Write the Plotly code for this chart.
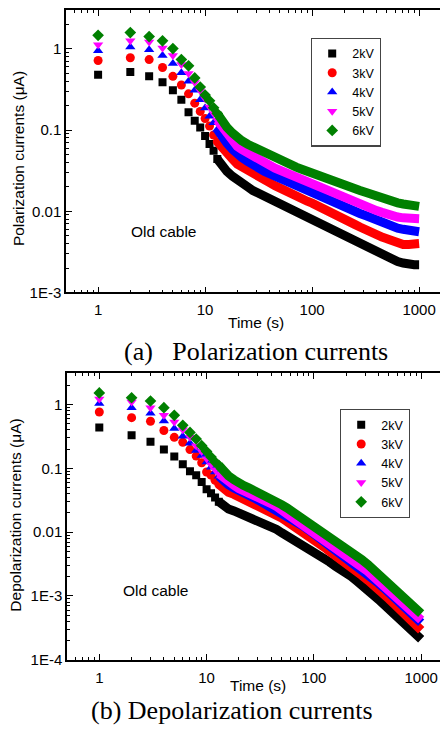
import plotly.graph_objects as go

# Time axis (s) shared by all series
time_s = [1, 2, 3, 4, 5, 6, 7, 8, 9, 10, 11, 12,
          13, 14, 15, 16, 18, 20, 22, 25, 28, 32,
          36, 40, 45, 50, 56, 63, 71, 80, 90, 100,
          112, 125, 140, 160, 180, 200, 225, 250, 280, 320,
          360, 400, 450, 500, 560, 630, 710, 800, 900, 1000]

labels = ["2kV", "3kV", "4kV", "5kV", "6kV"]

# Polarization currents (uA)
pol_2kv = [0.48, 0.52, 0.46, 0.39, 0.31, 0.236, 0.166, 0.13, 0.108, 0.0845, 0.0676, 0.0556,
           0.044, 0.038, 0.034, 0.031, 0.027, 0.024, 0.022, 0.020, 0.018, 0.0165,
           0.015, 0.014, 0.013, 0.012, 0.0113, 0.0105, 0.0097, 0.0091, 0.0086, 0.0081,
           0.0075, 0.0070, 0.0065, 0.0060, 0.0055, 0.0051, 0.0047, 0.0043, 0.0040, 0.0037,
           0.0034, 0.0031, 0.0029, 0.0027, 0.0025, 0.0024, 0.0023, 0.0022, 0.0022, 0.0022]
pol_3kv = [0.72, 0.78, 0.74, 0.59, 0.46, 0.36, 0.28, 0.215, 0.17, 0.139, 0.112, 0.087,
           0.072, 0.063, 0.056, 0.051, 0.044, 0.038, 0.035, 0.032, 0.029, 0.026,
           0.024, 0.0225, 0.0207, 0.0192, 0.0178, 0.0165, 0.0152, 0.0142, 0.0133, 0.0126,
           0.0118, 0.0110, 0.0102, 0.0094, 0.0087, 0.0081, 0.0075, 0.0069, 0.0064, 0.0058,
           0.0054, 0.0051, 0.0048, 0.0046, 0.0043, 0.0041, 0.0039, 0.0039, 0.0039, 0.0040]
pol_4kv = [0.95, 1.06, 0.98, 0.83, 0.66, 0.51, 0.40, 0.31, 0.236, 0.187, 0.148, 0.123,
           0.102, 0.087, 0.077, 0.069, 0.058, 0.050, 0.046, 0.041, 0.037, 0.034,
           0.031, 0.029, 0.027, 0.025, 0.0235, 0.022, 0.0205, 0.019, 0.018, 0.017,
           0.016, 0.015, 0.014, 0.013, 0.0122, 0.0114, 0.0106, 0.0100, 0.0094, 0.0088,
           0.0082, 0.0077, 0.0072, 0.0068, 0.0065, 0.0062, 0.0060, 0.0058, 0.0057, 0.0056]
pol_5kv = [1.13, 1.26, 1.22, 1.03, 0.83, 0.645, 0.50, 0.386, 0.306, 0.243, 0.192, 0.16,
           0.132, 0.115, 0.100, 0.089, 0.074, 0.063, 0.058, 0.052, 0.047, 0.043,
           0.040, 0.037, 0.034, 0.032, 0.030, 0.028, 0.026, 0.0245, 0.023, 0.0215,
           0.0202, 0.019, 0.0178, 0.0165, 0.0155, 0.0146, 0.0137, 0.0130, 0.0122, 0.0115,
           0.0108, 0.0102, 0.0097, 0.0092, 0.0088, 0.0085, 0.0083, 0.0082, 0.0081, 0.0081]
pol_6kv = [1.47, 1.59, 1.42, 1.26, 1.01, 0.74, 0.62, 0.44, 0.34, 0.27, 0.23, 0.188,
           0.16, 0.136, 0.12, 0.108, 0.092, 0.080, 0.074, 0.067, 0.062, 0.057,
           0.053, 0.050, 0.046, 0.043, 0.040, 0.037, 0.035, 0.033, 0.031, 0.0298,
           0.028, 0.0265, 0.025, 0.0235, 0.022, 0.021, 0.020, 0.019, 0.018, 0.0170,
           0.0160, 0.0152, 0.0145, 0.0138, 0.0132, 0.0127, 0.0123, 0.0120, 0.0117, 0.0115]

# Depolarization currents (uA)
dep_2kv = [0.435, 0.33, 0.26, 0.196, 0.153, 0.116, 0.0895, 0.078, 0.061, 0.047, 0.0405, 0.0347,
           0.030, 0.027, 0.024, 0.023, 0.0215, 0.020, 0.0188, 0.0172, 0.0158, 0.0143,
           0.0131, 0.0121, 0.0110, 0.0098, 0.0088, 0.0079, 0.0070, 0.0062, 0.0056, 0.0050,
           0.0044, 0.0039, 0.0034, 0.0029, 0.0026, 0.0023, 0.0020, 0.00172, 0.0015, 0.0012,
           0.00102, 0.00088, 0.00073, 0.00060, 0.00050, 0.00042, 0.00035, 0.00029, 0.00025, 0.00021]
dep_3kv = [0.76, 0.62, 0.545, 0.39, 0.305, 0.255, 0.196, 0.155, 0.122, 0.0875, 0.078, 0.065,
           0.056, 0.049, 0.045, 0.042, 0.039, 0.036, 0.033, 0.030, 0.027, 0.024,
           0.022, 0.020, 0.018, 0.0166, 0.0147, 0.0130, 0.0115, 0.0101, 0.0088, 0.0076,
           0.0066, 0.0058, 0.0050, 0.0043, 0.0037, 0.0033, 0.0028, 0.0024, 0.0021, 0.00175,
           0.00150, 0.00128, 0.00108, 0.00090, 0.00075, 0.00062, 0.00051, 0.00042, 0.00035, 0.00029]
dep_4kv = [1.03, 0.89, 0.73, 0.55, 0.42, 0.316, 0.246, 0.19, 0.158, 0.125, 0.104, 0.087,
           0.075, 0.066, 0.060, 0.055, 0.049, 0.044, 0.041, 0.037, 0.034, 0.030,
           0.027, 0.025, 0.022, 0.020, 0.0178, 0.0158, 0.0140, 0.0123, 0.0107, 0.0094,
           0.0082, 0.0072, 0.0062, 0.0053, 0.0046, 0.0040, 0.0034, 0.0030, 0.0026, 0.0022,
           0.00185, 0.00158, 0.00133, 0.00112, 0.00094, 0.00078, 0.00065, 0.00054, 0.00045, 0.00038]
dep_5kv = [1.22, 1.09, 0.89, 0.675, 0.53, 0.40, 0.305, 0.226, 0.183, 0.141, 0.114, 0.095,
           0.082, 0.073, 0.066, 0.061, 0.054, 0.048, 0.045, 0.041, 0.037, 0.034,
           0.030, 0.028, 0.025, 0.022, 0.0195, 0.0174, 0.0154, 0.0135, 0.0118, 0.0104,
           0.0091, 0.0080, 0.0069, 0.0059, 0.0051, 0.0045, 0.0038, 0.0033, 0.0029, 0.0024,
           0.0020, 0.00172, 0.00145, 0.00122, 0.00102, 0.00085, 0.00071, 0.00059, 0.00050, 0.00042]
dep_6kv = [1.51, 1.27, 1.13, 0.89, 0.675, 0.47, 0.364, 0.287, 0.226, 0.183, 0.15, 0.125,
           0.111, 0.093, 0.083, 0.076, 0.066, 0.058, 0.054, 0.049, 0.045, 0.041,
           0.037, 0.034, 0.031, 0.027, 0.024, 0.021, 0.019, 0.0165, 0.0146, 0.0130,
           0.0114, 0.0100, 0.0087, 0.0075, 0.0066, 0.0058, 0.0050, 0.0043, 0.0037, 0.0031,
           0.0026, 0.0022, 0.00188, 0.00160, 0.00135, 0.00113, 0.00095, 0.00079, 0.00065, 0.00053]

pol_ticks = [0.001, 0.01, 0.1, 1]
pol_ticktext = ["1E-3", "0.01", "0.1", "1"]
dep_ticks = [0.0001, 0.001, 0.01, 0.1, 1]
dep_ticktext = ["1E-4", "1E-3", "0.01", "0.1", "1"]
x_ticks = [1, 10, 100, 1000]
x_ticktext = ["1", "10", "100", "1000"]

colors = ["#000000", "#ff0000", "#0000ff", "#ff00ff", "#008000"]
symbols = ["square", "circle", "triangle-up", "triangle-down", "diamond"]
sizes = [8, 9, 9, 9, 9]

sans = "Arial, 'Liberation Sans', sans-serif"
serif = "'Times New Roman', 'Liberation Serif', serif"

# page body adds an 8px margin, so the figure is 8px smaller and positions are
# measured on the reference picture then shifted
W, H, OFF = 440, 726, 8


def px(x):
    return (x - OFF) / W


def py(y):
    return 1 - (y - OFF) / H


# after t=13 the 1 s samples overlap into one continuous band
split = 13

fig = go.Figure()
pol_sets = [pol_2kv, pol_3kv, pol_4kv, pol_5kv, pol_6kv]
dep_sets = [dep_2kv, dep_3kv, dep_4kv, dep_5kv, dep_6kv]

for sets, xa, ya, lg in [(pol_sets, "x", "y", "legend"), (dep_sets, "x2", "y2", "legend2")]:
    for i, lab in enumerate(labels):
        fig.add_trace(go.Scatter(
            x=time_s[split - 1:], y=sets[i][split - 1:], mode="lines",
            line=dict(color=colors[i], width=9), showlegend=False, hoverinfo="skip",
            xaxis=xa, yaxis=ya
        ))
        fig.add_trace(go.Scatter(
            x=time_s[:split], y=sets[i][:split], mode="markers", name=lab,
            marker=dict(symbol=symbols[i], color=colors[i], size=sizes[i], line=dict(width=0)),
            xaxis=xa, yaxis=ya, legend=lg
        ))

axis_common = dict(
    type="log", showline=True, linecolor="black", linewidth=1.5,
    ticks="inside", ticklen=6, tickwidth=1.2, tickcolor="black",
    minor=dict(ticks="inside", ticklen=3, tickwidth=1, tickcolor="black", dtick="D1", showgrid=False),
    showgrid=False, zeroline=False, tickfont=dict(family=sans, size=15, color="black"),
)

legend_common = dict(xanchor="left", yanchor="top", bordercolor="#444444", borderwidth=1.2,
                     bgcolor="white", font=dict(family=sans, size=12.5), tracegroupgap=0)

fig.update_layout(
    width=W, height=H,
    margin=dict(l=0, r=0, t=0, b=0),
    paper_bgcolor="white", plot_bgcolor="white",
    font=dict(family=sans, size=15, color="black"),
    xaxis=dict(axis_common, domain=[px(66), 1], range=[-0.30, 3.27], anchor="y",
               tickvals=x_ticks, ticktext=x_ticktext, mirror="ticks", ticklabelstandoff=3),
    yaxis=dict(axis_common, domain=[py(295), py(9)], range=[-3, 0.48], anchor="x",
               tickvals=pol_ticks, ticktext=pol_ticktext),
    xaxis2=dict(axis_common, domain=[px(67), 1], range=[-0.301, 3.25], anchor="y2",
                tickvals=x_ticks, ticktext=x_ticktext, mirror="ticks", ticklabelstandoff=3),
    yaxis2=dict(axis_common, domain=[py(667), py(377)], range=[-4, 0.485], anchor="x2",
                tickvals=dep_ticks, ticktext=dep_ticktext),
    legend=dict(legend_common, x=px(311), y=py(37)),
    legend2=dict(legend_common, x=px(340), y=py(413)),
    showlegend=True,
)

annotations = [
    dict(text="Polarization currents (\u03bcA)", x=18, y=160, textangle=-90),
    dict(text="Depolarization currents (\u03bcA)", x=16, y=521, textangle=-90),
    dict(text="Time (s)", x=256, y=325),
    dict(text="Time (s)", x=258, y=693),
    dict(text="Old cable", x=163, y=233),
    dict(text="Old cable", x=155, y=597),
]
for a in annotations:
    fig.add_annotation(text=a["text"], x=px(a["x"]), y=py(a["y"]), xref="paper", yref="paper",
                       showarrow=False, textangle=a.get("textangle", 0),
                       font=dict(family=sans, size=15.5, color="black"),
                       xanchor="center", yanchor="middle")

fig.add_annotation(text="(a)\u00a0\u00a0 Polarization currents", x=px(256), y=py(355),
                   xref="paper", yref="paper", showarrow=False,
                   font=dict(family=serif, size=26, color="black"), xanchor="center", yanchor="middle")
fig.add_annotation(text="(b) Depolarization currents", x=px(232), y=py(718),
                   xref="paper", yref="paper", showarrow=False,
                   font=dict(family=serif, size=26, color="black"), xanchor="center", yanchor="middle")

fig.write_html("out.html")
